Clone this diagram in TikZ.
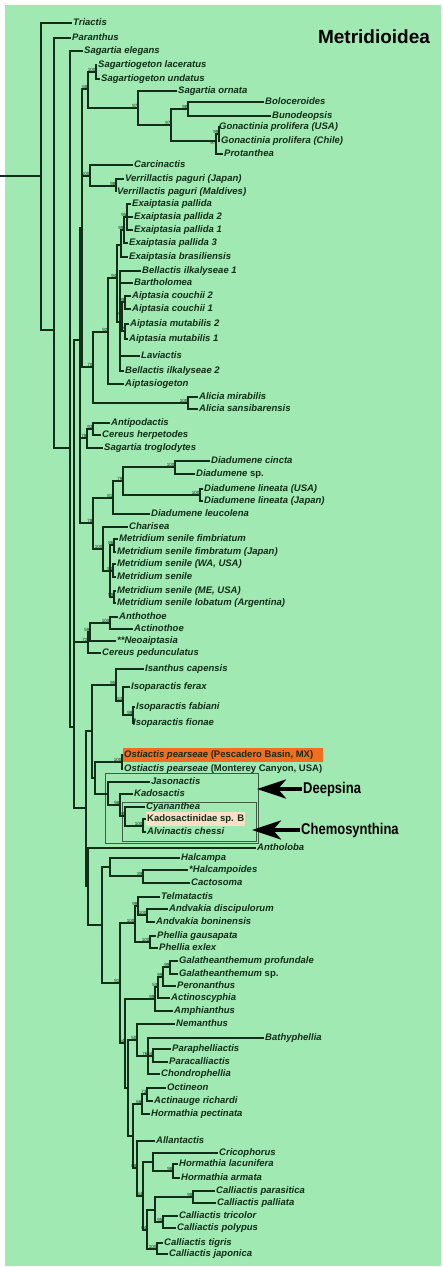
\documentclass[tikz,border=0pt]{standalone}
\usepackage{fontspec}
\setmainfont{Liberation Sans}
\usetikzlibrary{arrows.meta}
\definecolor{bggreen}{RGB}{160,233,178}
\definecolor{ink}{RGB}{18,45,24}
\definecolor{hlorange}{RGB}{244,108,32}
\definecolor{hlpeach}{RGB}{250,222,200}
\definecolor{boxline}{RGB}{62,92,70}

\begin{document}
\begin{tikzpicture}[x=1pt, y=-1pt, >=Stealth,
  branch/.style={draw=ink, line width=1.1pt},
  leaf/.style={anchor=west, inner xsep=1pt, inner ysep=2.5pt, text height=7pt, text depth=2pt, text=ink, font=\fontsize{9.5}{11}\selectfont\bfseries\itshape},
  bsv/.style={font=\fontsize{4.5}{5}\selectfont, inner sep=0.3pt, text=ink},
  bs/.style={label={[bsv]above left:#1}},
  bsb/.style={label={[bsv]below left:#1}},
  grp/.style={anchor=west, inner sep=1pt, font=\fontsize{13}{15}\selectfont\bfseries},
  bigarrow/.style={-{Stealth[length=29pt, width=19pt, inset=8pt]}, line width=4pt},
  clade/.style={draw=boxline, line width=0.8pt}]
  \useasboundingbox (0,0) rectangle (443,1267);
  \fill[bggreen] (5,5) rectangle (441,1266);

  \node[font=\fontsize{19}{22}\selectfont\bfseries] (title) at (374,37) {Metridioidea};

  \draw[clade] (105,773) rectangle (258,843);
  \draw[clade] (122,802) rectangle (256,841);

  \node[leaf] (Tri) at (72,23) {Triactis};
  \node[leaf] (Par) at (71,38) {Paranthus};
  \node[leaf] (Sel) at (83,51) {Sagartia elegans};
  \node[leaf] (Sla) at (97,65) {Sagartiogeton laceratus};
  \node[leaf] (Sun) at (100,79) {Sagartiogeton undatus};
  \node[leaf] (Sor) at (177,91) {Sagartia ornata};
  \node[leaf] (Bol) at (264,102) {Boloceroides};
  \node[leaf] (Bun) at (271,116) {Bunodeopsis};
  \node[leaf] (Gpu) at (218,127) {Gonactinia prolifera (USA)};
  \node[leaf] (Gpc) at (220,141) {Gonactinia prolifera (Chile)};
  \node[leaf] (Pro) at (223,154) {Protanthea};
  \node[leaf] (Car) at (133,165) {Carcinactis};
  \node[leaf] (Vpj) at (124,179) {Verrillactis paguri (Japan)};
  \node[leaf] (Vpm) at (116,192) {Verrillactis paguri (Maldives)};
  \node[leaf] (Ep0) at (131,204) {Exaiptasia pallida};
  \node[leaf] (Ep2) at (133,217) {Exaiptasia pallida 2};
  \node[leaf] (Ep1) at (133,230) {Exaiptasia pallida 1};
  \node[leaf] (Ep3) at (128,243) {Exaiptasia pallida 3};
  \node[leaf] (Ebr) at (128,257) {Exaiptasia brasiliensis};
  \node[leaf] (Bi1) at (141,271) {Bellactis ilkalyseae 1};
  \node[leaf] (Bar) at (133,283) {Bartholomea};
  \node[leaf] (Ac2) at (131,296) {Aiptasia couchii 2};
  \node[leaf] (Ac1) at (131,309) {Aiptasia couchii 1};
  \node[leaf] (Am2) at (129,324) {Aiptasia mutabilis 2};
  \node[leaf] (Am1) at (128,339) {Aiptasia mutabilis 1};
  \node[leaf] (Lav) at (140,356) {Laviactis};
  \node[leaf] (Bi2) at (124,371) {Bellactis ilkalyseae 2};
  \node[leaf] (Aig) at (124,384) {Aiptasiogeton};
  \node[leaf] (Ami) at (198,397) {Alicia mirabilis};
  \node[leaf] (Asa) at (198,409) {Alicia sansibarensis};
  \node[leaf] (Ant) at (110,423) {Antipodactis};
  \node[leaf] (Che) at (101,435) {Cereus herpetodes};
  \node[leaf] (Str) at (103,448) {Sagartia troglodytes};
  \node[leaf] (Dci) at (210,461) {Diadumene cincta};
  \node[leaf] (Dsp) at (195,474) {Diadumene \upshape sp.};
  \node[leaf] (Dlu) at (203,489) {Diadumene lineata (USA)};
  \node[leaf] (Dlj) at (203,501) {Diadumene lineata (Japan)};
  \node[leaf] (Dle) at (150,514) {Diadumene leucolena};
  \node[leaf] (Chr) at (128,527) {Charisea};
  \node[leaf] (Ms1) at (118,539) {Metridium senile fimbriatum};
  \node[leaf] (Ms2) at (116,552) {Metridium senile fimbratum (Japan)};
  \node[leaf] (Ms3) at (116,564) {Metridium senile (WA, USA)};
  \node[leaf] (Ms4) at (116,577) {Metridium senile};
  \node[leaf] (Ms5) at (116,591) {Metridium senile (ME, USA)};
  \node[leaf] (Ms6) at (116,603) {Metridium senile lobatum (Argentina)};
  \node[leaf] (Ath) at (118,617) {Anthothoe};
  \node[leaf] (Act) at (133,629) {Actinothoe};
  \node[leaf] (Neo) at (116,641) {**Neoaiptasia};
  \node[leaf] (Cpe) at (101,653) {Cereus pedunculatus};
  \node[leaf] (Isc) at (144,669) {Isanthus capensis};
  \node[leaf] (Ife) at (130,687) {Isoparactis ferax};
  \node[leaf] (Ifa) at (135,707) {Isoparactis fabiani};
  \node[leaf] (Ifi) at (132,723) {Isoparactis fionae};
  \node[leaf, fill=hlorange] (Opb) at (123,755) {Ostiactis pearseae \upshape(Pescadero Basin, MX)\rule{9pt}{0pt}};
  \node[leaf] (Opm) at (123,769) {Ostiactis pearseae \upshape(Monterey Canyon, USA)};
  \node[leaf] (Jas) at (150,782) {Jasonactis};
  \node[leaf] (Kad) at (133,794) {Kadosactis};
  \node[leaf] (Cya) at (145,807) {Cyananthea};
  \node[leaf, fill=hlpeach] (Ksb) at (146,819) {\upshape Kadosactinidae sp. B};
  \node[leaf] (Ach) at (146,832) {Alvinactis chessi};
  \node[leaf] (Anl) at (256,848) {Antholoba};
  \node[leaf] (Hca) at (180,858) {Halcampa};
  \node[leaf] (Hpo) at (188,870) {*Halcampoides};
  \node[leaf] (Cac) at (190,883) {Cactosoma};
  \node[leaf] (Tel) at (160,897) {Telmatactis};
  \node[leaf] (Adi) at (168,909) {Andvakia discipulorum};
  \node[leaf] (Abo) at (155,922) {Andvakia boninensis};
  \node[leaf] (Pga) at (156,936) {Phellia gausapata};
  \node[leaf] (Pex) at (158,948) {Phellia exlex};
  \node[leaf] (Gpr) at (178,961) {Galatheanthemum profundale};
  \node[leaf] (Gsp) at (178,974) {Galatheanthemum \upshape sp.};
  \node[leaf] (Per) at (176,986) {Peronanthus};
  \node[leaf] (Acy) at (170,998) {Actinoscyphia};
  \node[leaf] (Amp) at (173,1011) {Amphianthus};
  \node[leaf] (Nem) at (175,1024) {Nemanthus};
  \node[leaf] (Bat) at (264,1038) {Bathyphellia};
  \node[leaf] (Pph) at (171,1049) {Paraphelliactis};
  \node[leaf] (Pca) at (168,1062) {Paracalliactis};
  \node[leaf] (Cho) at (160,1074) {Chondrophellia};
  \node[leaf] (Oct) at (166,1088) {Octineon};
  \node[leaf] (Ari) at (153,1101) {Actinauge richardi};
  \node[leaf] (Hpe) at (150,1114) {Hormathia pectinata};
  \node[leaf] (All) at (155,1141) {Allantactis};
  \node[leaf] (Cri) at (218,1153) {Cricophorus};
  \node[leaf] (Hla) at (178,1164) {Hormathia lacunifera};
  \node[leaf] (Har) at (180,1178) {Hormathia armata};
  \node[leaf] (Cpa) at (215,1191) {Calliactis parasitica};
  \node[leaf] (Cpl) at (216,1203) {Calliactis palliata};
  \node[leaf] (Ctr) at (178,1216) {Calliactis tricolor};
  \node[leaf] (Cpo) at (176,1228) {Calliactis polypus};
  \node[leaf] (Cti) at (163,1243) {Calliactis tigris};
  \node[leaf] (Cja) at (168,1254) {Calliactis japonica};

  \coordinate (root) at (0,176);
  \coordinate (R1) at (41,176);
  \coordinate (R2) at (54,330);
  \coordinate (R3) at (70,448);
  \coordinate (B3) at (74,727);
  \coordinate (B2) at (80,340);
  \coordinate (B1) at (82,228);
  \coordinate[bs=68] (Nsg) at (88,89);
  \coordinate[bs=100] (Nsag) at (96,72);
  \coordinate[bs=97] (Norn) at (138,108);
  \coordinate[bs=97] (Nbg) at (171,125);
  \coordinate[bs=98] (Nbol) at (188,109);
  \coordinate[bsb=97] (Ngon) at (216,141);
  \coordinate[bs=99] (Ngu) at (219,134);
  \coordinate[bs=100] (Ncar) at (90,176);
  \coordinate[bs=98] (Nver) at (116,186);
  \coordinate[bs=70] (N70) at (93,367);
  \coordinate[bs=92] (N92) at (108,332);
  \coordinate[bs=94] (Nea) at (117,278);
  \coordinate (Nex3) at (121,245);
  \coordinate[bs=99] (Nex2) at (124,230);
  \coordinate[bs=95] (Nex1) at (127,217);
  \coordinate (Naip) at (120,322);
  \coordinate[bs=93] (Ncm) at (122,316);
  \coordinate[bs=99] (Ncou) at (125,302);
  \coordinate[bs=57] (Nmut) at (125,331);
  \coordinate[bs=100] (Nali) at (188,403);
  \coordinate[bs=78] (Nce) at (87,438);
  \coordinate[bs=93] (Nant) at (93,429);
  \coordinate[bs=78] (Ndm) at (93,523);
  \coordinate[bs=81] (Nd81) at (113,498);
  \coordinate[bs=79] (Nd79) at (123,481);
  \coordinate[bs=100] (Ndc) at (175,467);
  \coordinate[bs=100] (Ndl) at (200,495);
  \coordinate[bs=100] (Nch) at (103,549);
  \coordinate (Nmet) at (110,571);
  \coordinate[bs=86] (Nm1) at (114,545);
  \coordinate[bs=94] (Nm2) at (113,571);
  \coordinate[bs=59] (Nm3) at (114,597);
  \coordinate[bs=72] (N72) at (88,642);
  \coordinate[bs=59] (Nneo) at (90,632);
  \coordinate[bs=100] (Nao) at (110,623);
  \coordinate (N87) at (86,808);
  \coordinate (Nio) at (92,731);
  \coordinate[bs=95] (Nisa) at (116,685);
  \coordinate[bs=63] (Ni63) at (123,701);
  \coordinate[bs=99] (Nif) at (133,715);
  \coordinate (Nod) at (95,778);
  \coordinate[bs=100] (Nost) at (122,762);
  \coordinate (Ndee) at (108,794);
  \coordinate[bs=96] (Nkad) at (120,805);
  \coordinate[bs=94] (Ncy) at (125,816);
  \coordinate[bs=100] (Nalv) at (143,826);
  \coordinate (Nanl) at (88,886);
  \coordinate (Nlow) at (102,925);
  \coordinate (Nhal) at (110,867);
  \coordinate[bs=89] (Nhc) at (143,876);
  \coordinate[bs=91] (N91) at (120,983);
  \coordinate[bs=100] (Ntp) at (135,923);
  \coordinate[bs=99] (Ntel) at (138,906);
  \coordinate[bs=100] (Nand) at (147,915);
  \coordinate[bs=100] (Nphe) at (150,942);
  \coordinate[bs=54] (N54) at (125,1043);
  \coordinate[bs=99] (Nga4) at (155,999);
  \coordinate[bs=53] (Nga3) at (158,987);
  \coordinate[bs=99] (Nga2) at (163,977);
  \coordinate[bs=99] (Nga1) at (170,967);
  \coordinate (N54b) at (128,1088);
  \coordinate[bs=50] (Nnem) at (137,1040);
  \coordinate[bs=76] (Nbat) at (148,1056);
  \coordinate[bs=64] (Npp) at (153,1056);
  \coordinate (Nohc) at (133,1136);
  \coordinate[bs=66] (Noh) at (142,1104);
  \coordinate[bs=73] (Noct) at (147,1094);
  \coordinate[bs=88] (Nall) at (137,1168);
  \coordinate[bs=64] (Nc64a) at (143,1196);
  \coordinate (Ncri) at (153,1162);
  \coordinate[bs=98] (Nhor) at (173,1171);
  \coordinate[bs=64] (Nc64b) at (147,1230);
  \coordinate (Ncp) at (155,1210);
  \coordinate[bs=98] (Ncpa) at (193,1197);
  \coordinate[bs=95] (Nctr) at (163,1222);
  \coordinate[bs=100] (Ncti) at (157,1249);

  \draw[branch] (root) -- (R1);
  \draw[branch] (R1) |- (Tri) (R1) |- (R2);
  \draw[branch] (R2) |- (Par) (R2) |- (R3);
  \draw[branch] (R3) |- (Sel) (R3) |- (B3);
  \draw[branch] (B3) |- (B2) (B3) |- (N72) (B3) |- (N87);
  \draw[branch] (B2) |- (B1) (B2) |- (Nce) (B2) |- (Ndm);
  \draw[branch] (B1) |- (Nsg) (B1) |- (Ncar) (B1) |- (N70);
  \draw[branch] (Nsg) |- (Nsag) (Nsg) |- (Norn);
  \draw[branch] (Nsag) |- (Sla) (Nsag) |- (Sun);
  \draw[branch] (Norn) |- (Sor) (Norn) |- (Nbg);
  \draw[branch] (Nbg) |- (Nbol) (Nbg) |- (Ngon);
  \draw[branch] (Nbol) |- (Bol) (Nbol) |- (Bun);
  \draw[branch] (Ngon) |- (Ngu) (Ngon) |- (Pro);
  \draw[branch] (Ngu) |- (Gpu) (Ngu) |- (Gpc);
  \draw[branch] (Ncar) |- (Car) (Ncar) |- (Nver);
  \draw[branch] (Nver) |- (Vpj) (Nver) |- (Vpm);
  \draw[branch] (N70) |- (N92) (N70) |- (Nali);
  \draw[branch] (N92) |- (Nea) (N92) |- (Aig);
  \draw[branch] (Nea) |- (Nex3) (Nea) |- (Naip);
  \draw[branch] (Nex3) |- (Nex2) (Nex3) |- (Ebr);
  \draw[branch] (Nex2) |- (Nex1) (Nex2) |- (Ep3);
  \draw[branch] (Nex1) |- (Ep0) (Nex1) |- (Ep2) (Nex1) |- (Ep1);
  \draw[branch] (Naip) |- (Bi1) (Naip) |- (Bar) (Naip) |- (Ncm) (Naip) |- (Lav) (Naip) |- (Bi2);
  \draw[branch] (Ncm) |- (Ncou) (Ncm) |- (Nmut);
  \draw[branch] (Ncou) |- (Ac2) (Ncou) |- (Ac1);
  \draw[branch] (Nmut) |- (Am2) (Nmut) |- (Am1);
  \draw[branch] (Nali) |- (Ami) (Nali) |- (Asa);
  \draw[branch] (Nce) |- (Nant) (Nce) |- (Str);
  \draw[branch] (Nant) |- (Ant) (Nant) |- (Che);
  \draw[branch] (Ndm) |- (Nd81) (Ndm) |- (Nch);
  \draw[branch] (Nd81) |- (Nd79) (Nd81) |- (Dle);
  \draw[branch] (Nd79) |- (Ndc) (Nd79) |- (Ndl);
  \draw[branch] (Ndc) |- (Dci) (Ndc) |- (Dsp);
  \draw[branch] (Ndl) |- (Dlu) (Ndl) |- (Dlj);
  \draw[branch] (Nch) |- (Chr) (Nch) |- (Nmet);
  \draw[branch] (Nmet) |- (Nm1) (Nmet) |- (Nm2) (Nmet) |- (Nm3);
  \draw[branch] (Nm1) |- (Ms1) (Nm1) |- (Ms2);
  \draw[branch] (Nm2) |- (Ms3) (Nm2) |- (Ms4);
  \draw[branch] (Nm3) |- (Ms5) (Nm3) |- (Ms6);
  \draw[branch] (N72) |- (Nneo) (N72) |- (Cpe);
  \draw[branch] (Nneo) |- (Nao) (Nneo) |- (Neo);
  \draw[branch] (Nao) |- (Ath) (Nao) |- (Act);
  \draw[branch] (N87) |- (Nio) (N87) |- (Nanl);
  \draw[branch] (Nio) |- (Nisa) (Nio) |- (Nod);
  \draw[branch] (Nisa) |- (Isc) (Nisa) |- (Ni63);
  \draw[branch] (Ni63) |- (Ife) (Ni63) |- (Nif);
  \draw[branch] (Nif) |- (Ifa) (Nif) |- (Ifi);
  \draw[branch] (Nod) |- (Nost) (Nod) |- (Ndee);
  \draw[branch] (Nost) |- (Opb) (Nost) |- (Opm);
  \draw[branch] (Ndee) |- (Jas) (Ndee) |- (Nkad);
  \draw[branch] (Nkad) |- (Kad) (Nkad) |- (Ncy);
  \draw[branch] (Ncy) |- (Cya) (Ncy) |- (Nalv);
  \draw[branch] (Nalv) |- (Ksb) (Nalv) |- (Ach);
  \draw[branch] (Nanl) |- (Anl) (Nanl) |- (Nlow);
  \draw[branch] (Nlow) |- (Nhal) (Nlow) |- (N91);
  \draw[branch] (Nhal) |- (Hca) (Nhal) |- (Nhc);
  \draw[branch] (Nhc) |- (Hpo) (Nhc) |- (Cac);
  \draw[branch] (N91) |- (Ntp) (N91) |- (N54);
  \draw[branch] (Ntp) |- (Ntel) (Ntp) |- (Nphe);
  \draw[branch] (Ntel) |- (Tel) (Ntel) |- (Nand);
  \draw[branch] (Nand) |- (Adi) (Nand) |- (Abo);
  \draw[branch] (Nphe) |- (Pga) (Nphe) |- (Pex);
  \draw[branch] (N54) |- (Nga4) (N54) |- (N54b);
  \draw[branch] (Nga4) |- (Nga3) (Nga4) |- (Amp);
  \draw[branch] (Nga3) |- (Nga2) (Nga3) |- (Acy);
  \draw[branch] (Nga2) |- (Nga1) (Nga2) |- (Per);
  \draw[branch] (Nga1) |- (Gpr) (Nga1) |- (Gsp);
  \draw[branch] (N54b) |- (Nnem) (N54b) |- (Nohc);
  \draw[branch] (Nnem) |- (Nem) (Nnem) |- (Nbat);
  \draw[branch] (Nbat) |- (Bat) (Nbat) |- (Npp) (Nbat) |- (Cho);
  \draw[branch] (Npp) |- (Pph) (Npp) |- (Pca);
  \draw[branch] (Nohc) |- (Noh) (Nohc) |- (Nall);
  \draw[branch] (Noh) |- (Noct) (Noh) |- (Hpe);
  \draw[branch] (Noct) |- (Oct) (Noct) |- (Ari);
  \draw[branch] (Nall) |- (All) (Nall) |- (Nc64a);
  \draw[branch] (Nc64a) |- (Ncri) (Nc64a) |- (Nc64b);
  \draw[branch] (Ncri) |- (Cri) (Ncri) |- (Nhor);
  \draw[branch] (Nhor) |- (Hla) (Nhor) |- (Har);
  \draw[branch] (Nc64b) |- (Ncp) (Nc64b) |- (Ncti);
  \draw[branch] (Ncp) |- (Ncpa) (Ncp) |- (Nctr);
  \draw[branch] (Ncpa) |- (Cpa) (Ncpa) |- (Cpl);
  \draw[branch] (Nctr) |- (Ctr) (Nctr) |- (Cpo);
  \draw[branch] (Ncti) |- (Cti) (Ncti) |- (Cja);

  \node[grp] (deep) at (302,789) {\scalebox{1}[1.2]{Deepsina}};
  \coordinate (deeptip) at (257,789);
  \draw[bigarrow] (deep) -- (deeptip);
  \node[grp] (chemo) at (300,830) {\scalebox{1}[1.2]{Chemosynthina}};
  \coordinate (chemotip) at (252,830);
  \draw[bigarrow] (chemo) -- (chemotip);
\end{tikzpicture}
\end{document}
